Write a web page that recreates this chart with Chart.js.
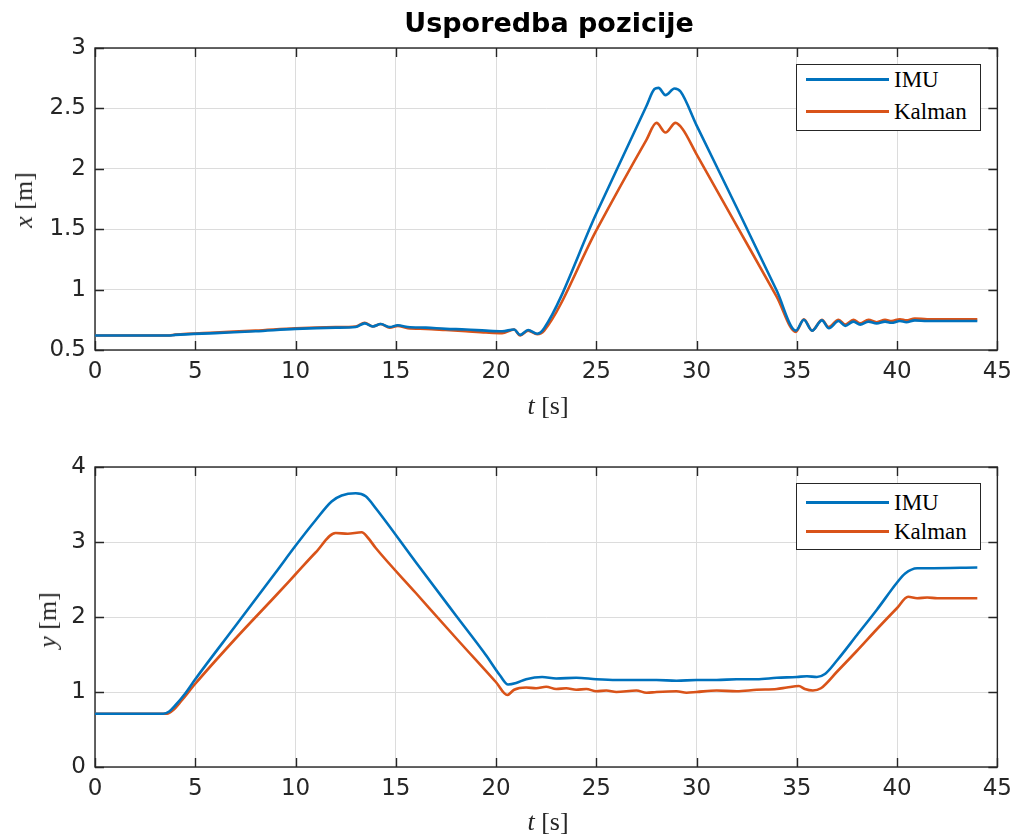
<!DOCTYPE html>
<html>
<head>
<meta charset="utf-8">
<title>Usporedba pozicije</title>
<script src="https://cdn.jsdelivr.net/npm/chart.js@4.4.0/dist/chart.umd.min.js"></script>
<style>
  body { margin: 0; background: #fff; width: 1020px; height: 837px; position: relative; overflow: hidden; }
  canvas { position: absolute; left: 0; }
  #c1 { top: 0; }
  #c2 { top: 420px; }
  .title { position: absolute; left: 95px; width: 908px; top: 7px; text-align: center;
           font: bold 27px "DejaVu Sans", sans-serif; color: #000; }
  .lab { position: absolute; font: 26px "Liberation Serif", serif; color: #262626; white-space: nowrap; }
  .lab i { font-style: italic; }
  .rot { transform: translate(-50%, -50%) rotate(-90deg); }
  .hor { transform: translate(-50%, -50%); }
  .legend { position: absolute; width: 183px; height: 65px; border: 1px solid #262626; background: #fff; }
  .legend .ln { position: absolute; left: 9px; width: 83px; height: 2.5px; }
  .legend .tx { position: absolute; left: 97px; font: 23px "Liberation Serif", serif; color: #000; line-height: 1; }
</style>
</head>
<body>
<canvas id="c1" width="1020" height="430"></canvas>
<canvas id="c2" width="1020" height="417"></canvas>

<div class="title">Usporedba pozicije</div>
<div class="lab rot" style="left:24px; top:200px;"><i>x</i> [m]</div>
<div class="lab hor" style="left:548px; top:406px;"><i>t</i> [s]</div>
<div class="lab rot" style="left:48px; top:620px;"><i>y</i> [m]</div>
<div class="lab hor" style="left:548px; top:822px;"><i>t</i> [s]</div>

<div class="legend" style="left:796px; top:64px;">
  <div class="ln" style="top:13px; background:#0072BD;"></div>
  <div class="tx" style="top:3px;">IMU</div>
  <div class="ln" style="top:45px; background:#D95319;"></div>
  <div class="tx" style="top:35px;">Kalman</div>
</div>
<div class="legend" style="left:796px; top:483px;">
  <div class="ln" style="top:17px; background:#0072BD;"></div>
  <div class="tx" style="top:7px;">IMU</div>
  <div class="ln" style="top:46px; background:#D95319;"></div>
  <div class="tx" style="top:36px;">Kalman</div>
</div>

<script>
// pozicija x: IMU i Kalman
const tXImu = [0, 3.7, 4, 6, 8, 10, 12, 13.0, 13.45, 13.85, 14.25, 14.7, 15.1, 15.6, 16.5, 17.5, 18.5, 19.5, 20.3,
  20.9, 21.2, 21.6, 22.05, 22.4, 25, 27.5, 27.9, 28.1, 28.45, 28.9, 29.2, 30, 32, 34, 34.95,
  35.35, 35.76, 36.25, 36.6, 37.08, 37.41, 37.82, 38.16, 38.57, 38.98, 39.4, 39.72, 40.14, 40.46, 40.88, 41.5, 44];
const xImu = [0.62, 0.62, 0.625, 0.64, 0.655, 0.675, 0.685, 0.69, 0.72, 0.695, 0.715, 0.69, 0.705, 0.69, 0.685, 0.675, 0.67, 0.66, 0.655,
  0.67, 0.625, 0.665, 0.635, 0.68, 1.63, 2.52, 2.66, 2.67, 2.61, 2.665, 2.64, 2.36, 1.68, 0.99, 0.66,
  0.75, 0.66, 0.745, 0.68, 0.74, 0.70, 0.735, 0.71, 0.735, 0.72, 0.735, 0.725, 0.74, 0.73, 0.745, 0.74, 0.74];

const tXKal = [0, 3.7, 4, 6, 8, 10, 12, 13.0, 13.45, 13.85, 14.25, 14.7, 15.1, 15.6, 16.5, 17.5, 18.5, 19.5, 20.3,
  20.9, 21.2, 21.6, 22.05, 22.4, 25, 27.5, 28.0, 28.45, 28.95, 29.3, 30, 32, 34, 34.95,
  35.35, 35.76, 36.25, 36.58, 37.08, 37.41, 37.82, 38.16, 38.57, 38.98, 39.4, 39.72, 40.14, 40.46, 40.88, 41.5, 44];
const xKal = [0.62, 0.62, 0.627, 0.645, 0.66, 0.68, 0.69, 0.695, 0.725, 0.695, 0.715, 0.685, 0.70, 0.68, 0.675, 0.665, 0.655, 0.645, 0.64,
  0.67, 0.62, 0.66, 0.63, 0.66, 1.49, 2.24, 2.38, 2.30, 2.38, 2.33, 2.12, 1.53, 0.94, 0.65,
  0.755, 0.66, 0.75, 0.69, 0.75, 0.71, 0.75, 0.72, 0.75, 0.73, 0.75, 0.74, 0.755, 0.745, 0.76, 0.755, 0.755];

// pozicija y: IMU i Kalman
const tYImu = [0, 3.4, 3.7, 4.0, 4.5, 5, 7, 9, 10, 11, 11.8, 12.3, 13.0, 13.5, 14, 16, 18, 19.5, 20.2, 20.6,
  21, 21.5, 22.3, 23, 24, 25, 26, 27, 28, 29, 30, 31, 32, 33, 34, 35, 35.5, 36.0, 36.4,
  37, 38, 39, 40, 40.4, 41, 41.5, 44];
const yImu = [0.71, 0.71, 0.74, 0.82, 0.98, 1.17, 1.88, 2.59, 2.95, 3.29, 3.54, 3.62, 3.65, 3.61, 3.45, 2.73, 2.02, 1.49, 1.22, 1.10,
  1.12, 1.17, 1.20, 1.18, 1.19, 1.17, 1.16, 1.16, 1.16, 1.15, 1.16, 1.16, 1.17, 1.17, 1.19, 1.20, 1.21, 1.20, 1.24,
  1.42, 1.76, 2.10, 2.46, 2.58, 2.65, 2.65, 2.66];

const tYKal = [0, 3.6, 3.9, 4.3, 5, 7, 9, 10, 11, 12.0, 12.6, 13.3, 13.6, 14, 16, 18, 20, 20.56,
  20.9, 21.5, 22, 22.5, 23, 23.5, 24, 24.5, 25, 25.5, 26, 27, 27.5, 28, 29, 29.5, 30, 31, 32, 33, 34, 34.5,
  35.1, 35.4, 35.8, 36.2, 37, 38, 39, 40, 40.55, 41, 41.5, 42, 44];
const yKal = [0.71, 0.71, 0.76, 0.88, 1.11, 1.71, 2.28, 2.57, 2.86, 3.12, 3.11, 3.13, 3.06, 2.92, 2.32, 1.72, 1.13, 0.96,
  1.03, 1.06, 1.05, 1.07, 1.04, 1.05, 1.03, 1.04, 1.01, 1.02, 1.00, 1.02, 0.99, 1.00, 1.01, 0.99, 1.00, 1.02, 1.01, 1.03, 1.04, 1.06,
  1.08, 1.04, 1.02, 1.05, 1.27, 1.55, 1.84, 2.12, 2.27, 2.25, 2.26, 2.25, 2.25];

const imuColor = '#0072BD';
const kalColor = '#D95319';
const axisColor = '#262626';

function toPoints(t, v) {
  return t.map((ti, i) => ({ x: ti, y: v[i] }));
}

// okvir osi s unutarnjim crticama na sve cetiri strane
const boxPlugin = {
  id: 'matlabBox',
  beforeDatasetsDraw(chart) {
    const { ctx, chartArea: a, scales } = chart;
    const len = 9;
    ctx.save();
    ctx.strokeStyle = axisColor;
    ctx.lineWidth = 1.4;
    ctx.beginPath();
    scales.x.ticks.forEach(t => {
      const px = Math.round(scales.x.getPixelForValue(t.value)) + 0.5;
      ctx.moveTo(px, a.bottom); ctx.lineTo(px, a.bottom - len);
      ctx.moveTo(px, a.top); ctx.lineTo(px, a.top + len);
    });
    scales.y.ticks.forEach(t => {
      const py = Math.round(scales.y.getPixelForValue(t.value)) + 0.5;
      ctx.moveTo(a.left, py); ctx.lineTo(a.left + len, py);
      ctx.moveTo(a.right, py); ctx.lineTo(a.right - len, py);
    });
    ctx.stroke();
    ctx.strokeRect(a.left, a.top, a.right - a.left, a.bottom - a.top);
    ctx.restore();
  }
};

function makeChart(id, imuPts, kalPts, yMin, yMax, yStep, pad) {
  return new Chart(document.getElementById(id), {
    type: 'line',
    data: {
      datasets: [
        { label: 'IMU', data: imuPts, borderColor: imuColor, borderWidth: 2.6, pointRadius: 0,
          cubicInterpolationMode: 'monotone', fill: false },
        { label: 'Kalman', data: kalPts, borderColor: kalColor, borderWidth: 2.6, pointRadius: 0,
          cubicInterpolationMode: 'monotone', fill: false }
      ]
    },
    options: {
      responsive: false,
      animation: false,
      layout: { padding: pad },
      plugins: { legend: { display: false }, tooltip: { enabled: false } },
      scales: {
        x: {
          type: 'linear', min: 0, max: 45,
          ticks: { stepSize: 5, color: axisColor, padding: 8, maxRotation: 0,
                   font: { family: 'DejaVu Sans', size: 23 } },
          grid: { color: '#dcdcdc', lineWidth: 1, drawTicks: false },
          border: { display: false },
          afterFit(scale) { scale.height = 40; }
        },
        y: {
          min: yMin, max: yMax,
          ticks: { stepSize: yStep, color: axisColor, padding: 9,
                   font: { family: 'DejaVu Sans', size: 23 },
                   callback: v => String(+v.toFixed(2)) },
          grid: { color: '#dcdcdc', lineWidth: 1, drawTicks: false },
          border: { display: false },
          afterFit(scale) { scale.width = 95; }
        }
      }
    },
    plugins: [boxPlugin]
  });
}

makeChart('c1', toPoints(tXImu, xImu), toPoints(tXKal, xKal), 0.5, 3, 0.5,
  { top: 48, right: 17, bottom: 40, left: 0 });
makeChart('c2', toPoints(tYImu, yImu), toPoints(tYKal, yKal), 0, 4, 1,
  { top: 47, right: 17, bottom: 30, left: 0 });
</script>
</body>
</html>
